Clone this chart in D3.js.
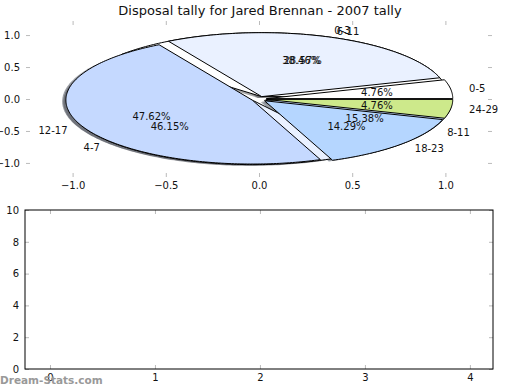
<!DOCTYPE html>
<html><head><meta charset="utf-8">
<script src="https://cdn.jsdelivr.net/npm/d3@7"></script>
<style>body{margin:0;background:#fff}svg{display:block;font-family:"DejaVu Sans",sans-serif}</style>
</head><body><svg id="c" width="520" height="390"></svg>
<script>
const title = "Disposal tally for Jared Brennan - 2007 tally";
const categoriesA = ["0-5","6-11","12-17","18-23","24-29"];
const valuesA = [1,6,10,3,1];
const categoriesB = ["0-3","4-7","8-11"];
const valuesB = [5,6,2];
const palette = ["#ffffff","#eaf1ff","#c5d9ff","#b5d6ff","#cde98b"];
const pieXTicks = [-1.0,-0.5,0.0,0.5,1.0];
const pieYTicks = [-1.0,-0.5,0.0,0.5,1.0];
const barXTicks = [0,1,2,3,4];
const barYTicks = [0,2,4,6,8,10];

const svg = d3.select("#c");
const fmtPie = d => d3.format(".1f")(d).replace("-","\u2212");

// ---- top (pie) axes ----
const x = d3.scaleLinear().domain([-1.25,1.25]).range([26,492]);
const y = d3.scaleLinear().domain([-1.22,1.22]).range([177,21]);

svg.append("text").attr("x",260).attr("y",15).attr("text-anchor","middle")
  .attr("font-size",13).attr("fill","#111").text(title);

function tickAxes(g, xs, ys, xt, yt, fmtX, fmtY, frame){
  const [xa,xb]=xs.range(), [ya,yb]=ys.range();
  const gx=g.append("g").attr("transform",`translate(0,${ya})`)
    .call(d3.axisBottom(xs).tickValues(xt).tickFormat(fmtX).tickSizeInner(-4).tickSizeOuter(0).tickPadding(5));
  const gxt=g.append("g").attr("transform",`translate(0,${yb})`)
    .call(d3.axisTop(xs).tickValues(xt).tickFormat("").tickSizeInner(-4).tickSizeOuter(0));
  const gy=g.append("g").attr("transform",`translate(${xa},0)`)
    .call(d3.axisLeft(ys).tickValues(yt).tickFormat(fmtY).tickSizeInner(-4).tickSizeOuter(0).tickPadding(6));
  const gyr=g.append("g").attr("transform",`translate(${xb},0)`)
    .call(d3.axisRight(ys).tickValues(yt).tickFormat("").tickSizeInner(-4).tickSizeOuter(0));
  [gx,gxt,gy,gyr].forEach(a=>{
    a.select(".domain").remove();
    a.selectAll(".tick line").attr("stroke","#bbb").attr("stroke-width",1);
    a.selectAll(".tick text").attr("font-size",10).attr("fill","#111").attr("font-family","DejaVu Sans");
  });
  if(frame){
    g.append("rect").attr("x",xa).attr("y",yb).attr("width",xb-xa).attr("height",ya-yb)
      .attr("fill","none").attr("stroke","#000").attr("stroke-width",1);
  }
}
tickAxes(svg.append("g"), x, y, pieXTicks, pieYTicks, fmtPie, fmtPie, false);

const pieGen = d3.pie().sort(null);
function wedgePoints(cx, cy, a0, a1){
  // matplotlib convention: degrees counterclockwise from 3 o'clock
  const pts=[[cx,cy]];
  const n=Math.max(2,Math.ceil((a1-a0)/1));
  for(let i=0;i<=n;i++){
    const t=(a0+(a1-a0)*i/n)*Math.PI/180;
    pts.push([cx+Math.cos(t), cy+Math.sin(t)]);
  }
  pts.push([cx,cy]);
  return pts;
}
const line = d3.line().x(d=>x(d[0])).y(d=>y(d[1]));

function layout(values, explode){
  return pieGen(values).map((d,i)=>{
    const a0=d.startAngle*180/Math.PI, a1=d.endAngle*180/Math.PI;
    const mid=(a0+a1)/2*Math.PI/180;
    const cx=explode*Math.cos(mid), cy=explode*Math.sin(mid);
    return {i,a0,a1,mid,cx,cy,frac:(d.endAngle-d.startAngle)/(2*Math.PI)};
  });
}
const wA = layout(valuesA, 0.04);
const wB = layout(valuesB, 0.04);

const pg = svg.append("g");
// shadows (drawn below all wedges)
function shadowColor(c){const r=d3.rgb(c);return d3.rgb(r.r*0.3,r.g*0.3,r.b*0.3).toString();}
[...wB.map(w=>[w,palette[w.i%palette.length]]), ...wA.map(w=>[w,palette[w.i%palette.length]])].forEach(([w,c])=>{
  pg.append("path").attr("d",line(wedgePoints(w.cx-0.02,w.cy-0.02,w.a0,w.a1)))
    .attr("fill",shadowColor(c)).attr("fill-opacity",0.5).attr("stroke","none");
});
function drawWedges(ws){
  ws.forEach(w=>{
    pg.append("path").attr("d",line(wedgePoints(w.cx,w.cy,w.a0,w.a1)))
      .attr("fill",palette[w.i%palette.length]).attr("stroke","#000").attr("stroke-width",1)
      .attr("stroke-linejoin","round");
  });
}
drawWedges(wB);
drawWedges(wA);

function labels(ws, cats){
  ws.forEach(w=>{
    const lx=w.cx+1.1*Math.cos(w.mid), ly=w.cy+1.1*Math.sin(w.mid);
    pg.append("text").attr("x",x(lx)).attr("y",y(ly)).attr("dy","0.35em")
      .attr("text-anchor", lx>0?"start":"end").attr("font-size",10).attr("fill","#111")
      .text(cats[w.i]);
    const px=w.cx+0.6*Math.cos(w.mid), py=w.cy+0.6*Math.sin(w.mid);
    pg.append("text").attr("x",x(px)).attr("y",y(py)).attr("dy","0.35em")
      .attr("text-anchor","middle").attr("font-size",10).attr("fill","#111")
      .text(d3.format(".2f")(w.frac*100)+"%");
  });
}
labels(wB, categoriesB);
labels(wA, categoriesA);

// ---- bottom (empty) axes ----
const bx = d3.scaleLinear().domain([-0.238,4.22]).range([25,493]);
const by = d3.scaleLinear().domain([0,10]).range([369,210]);
tickAxes(svg.append("g"), bx, by, barXTicks, barYTicks, d3.format("d"), d3.format("d"), true);

svg.append("text").attr("x",0).attr("y",384).attr("font-size",10.5).attr("font-weight","bold")
  .attr("fill","#999").attr("font-family","DejaVu Sans").text("Dream-Stats.com");
</script></body></html>
